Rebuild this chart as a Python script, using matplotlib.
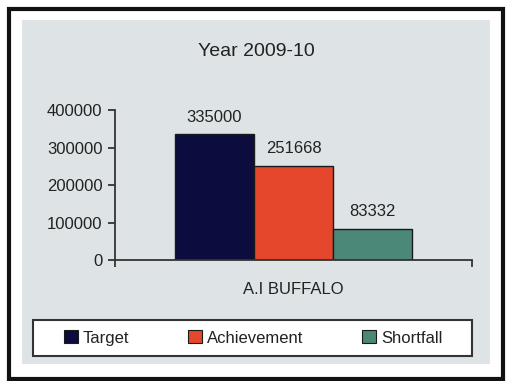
import matplotlib.pyplot as plt
from matplotlib.patches import Rectangle, Patch

plt.rcParams['font.family'] = ['Liberation Sans', 'DejaVu Sans']

# chart data
title = 'Year 2009-10'
category = 'A.I BUFFALO'
series = ['Target', 'Achievement', 'Shortfall']
values = [335000, 251668, 83332]
colors = ['#0c0d3e', '#e5472c', '#4b8878']
yticks = [0, 100000, 200000, 300000, 400000]

W, H = 507, 381


def fx(px):
    return px / W


def fy(py):
    return 1 - py / H


fig = plt.figure(figsize=(W / 100, H / 100), dpi=100, facecolor='white')

# outer black frame and grey chart area
fig.patches.append(Rectangle((fx(9), fy(379)), fx(503) - fx(9), fy(9) - fy(379),
                             transform=fig.transFigure, fill=False,
                             edgecolor='#111111', linewidth=3, zorder=-2))
fig.patches.append(Rectangle((fx(22), fy(364)), fx(490) - fx(22), fy(20) - fy(364),
                             transform=fig.transFigure, facecolor='#dee4e5',
                             edgecolor='none', zorder=-2))

ax = fig.add_axes([fx(115), fy(260), (472 - 115) / W, (260 - 110) / H])
ax.set_facecolor('none')
ax.set_zorder(2)

width = 79 / 357
for i, (name, val, col) in enumerate(zip(series, values, colors)):
    x = (i - 1) * width
    ax.bar(x, val, width=width, color=col, edgecolor='#1a1a1a', linewidth=1, zorder=2)
    ax.annotate(str(val), (x, val), xytext=(0, 7), textcoords='offset points',
                ha='center', va='bottom', fontsize=12, color='#222222')

ax.set_xlim(-0.5, 0.5)
ax.set_ylim(0, 400000)
ax.set_yticks(yticks)
ax.set_yticklabels([str(v) for v in yticks])
ax.set_xticks([0])
ax.set_xticklabels([category])
ax.set_xticks([-0.5, 0.5], minor=True)

for s in ['top', 'right']:
    ax.spines[s].set_visible(False)
for s in ['left', 'bottom']:
    ax.spines[s].set_color('#333333')
    ax.spines[s].set_linewidth(1.3)

ax.tick_params(axis='y', direction='out', length=5, width=1.3, color='#333333',
               labelsize=12, labelcolor='#222222', pad=4)
ax.tick_params(axis='x', which='major', length=0, labelsize=12,
               labelcolor='#222222', pad=16)
ax.tick_params(axis='x', which='minor', direction='out', length=5, width=1.3,
               color='#333333')

fig.text(fx(256), fy(51), title, ha='center', va='center', fontsize=14,
         color='#222222')

# legend box
fig.patches.append(Rectangle((fx(33), fy(356)), fx(472) - fx(33), fy(320) - fy(356),
                             transform=fig.transFigure, facecolor='white',
                             edgecolor='#333333', linewidth=1.5, zorder=-1))
handles = [Patch(facecolor=c, edgecolor='#1a1a1a', linewidth=0.8) for c in colors]
fig.legend(handles, series, loc='center', bbox_to_anchor=(fx(253), fy(338)),
           ncol=3, frameon=False, fontsize=12, handlelength=0.85,
           handleheight=0.8, handletextpad=0.3, columnspacing=3.5,
           labelcolor='#222222')

fig.savefig('out.png', dpi=100, facecolor='white')
